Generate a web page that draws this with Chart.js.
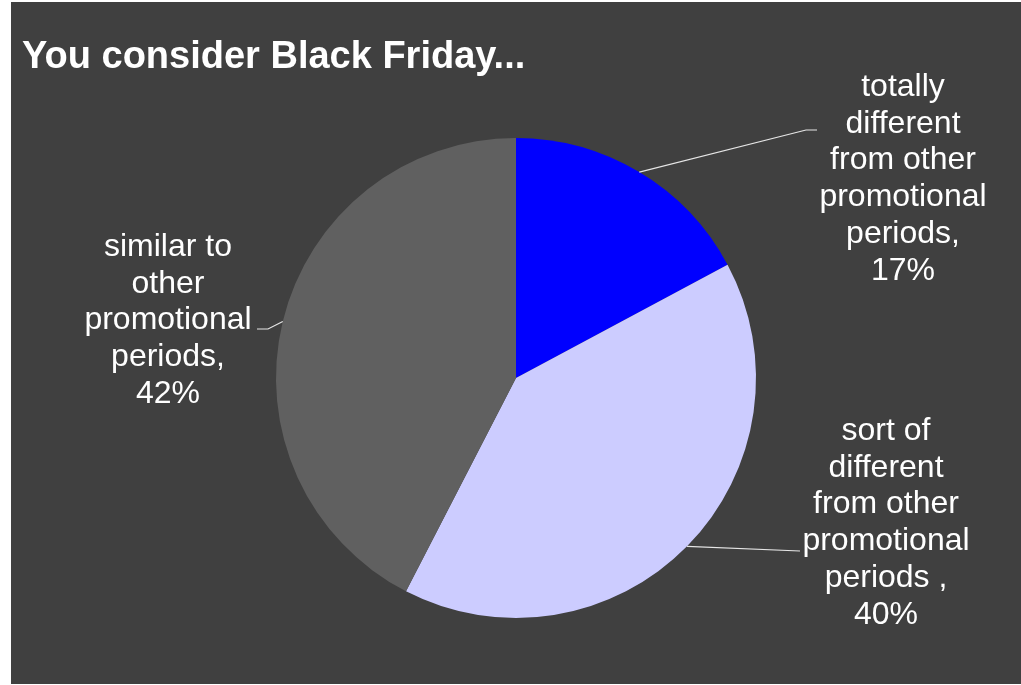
<!DOCTYPE html>
<html>
<head>
<meta charset="utf-8">
<script src="https://cdn.jsdelivr.net/npm/chart.js@4"></script>
<style>
  html, body { margin: 0; padding: 0; background: #ffffff; }
  #wrap { width: 1021px; height: 685px; position: relative; }
</style>
</head>
<body>
<div id="wrap"><canvas id="c" width="1021" height="685"></canvas></div>
<script>
// ---- data ----
const chartTitle = 'You consider Black Friday...';
const categories = [
  ['totally', 'different', 'from other', 'promotional', 'periods,'],
  ['sort of', 'different', 'from other', 'promotional', 'periods ,'],
  ['similar to', 'other', 'promotional', 'periods,']
];
const values = [17, 40, 42];
const percentLabels = ['17%', '40%', '42%'];
const sliceColors = ['#0000ff', '#ccccff', '#606060'];

// ---- label placement (style only) ----
const labelStyle = [
  { cx: 903, top: 87,  elbow: [806, 130], end: [817, 130] },
  { cx: 886, top: 431, elbow: [800, 551], end: [800, 551] },
  { cx: 168, top: 247, elbow: [268, 329], end: [257, 329] }
];

const bgPlugin = {
  id: 'bg',
  beforeDraw(chart) {
    const ctx = chart.ctx;
    ctx.save();
    ctx.fillStyle = '#ffffff';
    ctx.fillRect(0, 0, chart.width, chart.height);
    ctx.fillStyle = '#404040';
    ctx.fillRect(11, 2, chart.width - 11, 682);
    ctx.restore();
  }
};

const labelPlugin = {
  id: 'pieLabels',
  afterDatasetsDraw(chart) {
    const ctx = chart.ctx;
    const meta = chart.getDatasetMeta(0);
    ctx.save();
    meta.data.forEach((arc, i) => {
      const p = arc.getProps(['x', 'y', 'startAngle', 'endAngle', 'outerRadius'], true);
      const mid = (p.startAngle + p.endAngle) / 2;
      const sx = p.x + Math.cos(mid) * p.outerRadius;
      const sy = p.y + Math.sin(mid) * p.outerRadius;
      const st = labelStyle[i];
      ctx.strokeStyle = '#e6e6e6';
      ctx.lineWidth = 1.2;
      ctx.beginPath();
      ctx.moveTo(sx, sy);
      ctx.lineTo(st.elbow[0], st.elbow[1]);
      ctx.lineTo(st.end[0], st.end[1]);
      ctx.stroke();
      const lines = categories[i].concat([percentLabels[i]]);
      ctx.fillStyle = '#ffffff';
      ctx.font = '32px "Liberation Sans", Arial, sans-serif';
      ctx.textAlign = 'center';
      ctx.textBaseline = 'middle';
      lines.forEach((ln, k) => {
        ctx.fillText(ln, st.cx, st.top + k * 36.8);
      });
    });
    ctx.restore();
  }
};

new Chart(document.getElementById('c'), {
  type: 'pie',
  data: {
    labels: categories,
    datasets: [{
      data: values,
      backgroundColor: sliceColors,
      borderWidth: 0
    }]
  },
  options: {
    responsive: false,
    animation: false,
    layout: { padding: { left: 22, right: 11, top: 0, bottom: 67 } },
    plugins: {
      legend: { display: false },
      tooltip: { enabled: false },
      title: {
        display: true,
        text: chartTitle,
        align: 'start',
        color: '#ffffff',
        font: { family: '"Liberation Sans", Arial, sans-serif', size: 38, weight: 'bold' },
        padding: { top: 35, bottom: 57.4 }
      }
    }
  },
  plugins: [bgPlugin, labelPlugin]
});
</script>
</body>
</html>
